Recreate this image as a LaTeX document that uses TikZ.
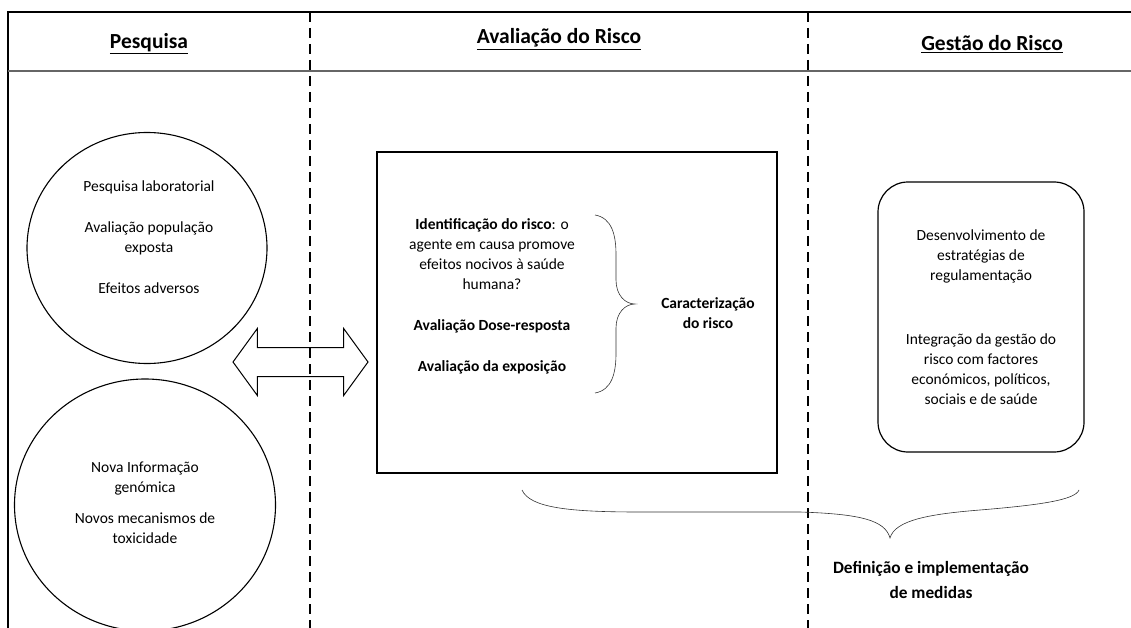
\documentclass[tikz,border=0pt]{standalone}
\usepackage{fontspec}
\setmainfont{Carlito}
\usetikzlibrary{shapes.geometric,shapes.arrows}

\tikzset{
  txt/.style={align=center, font=\fontsize{15.5}{20}\selectfont, inner sep=0pt},
  boldtxt/.style={txt, font=\fontsize{15.5}{20}\selectfont\bfseries},
  header/.style={font=\fontsize{21.5}{24}\selectfont\bfseries, inner sep=0pt},
  divider/.style={line width=2pt, dash pattern=on 10pt off 6pt},
  bubble/.style={draw, ellipse, line width=1.1pt, inner sep=0pt},
  curly/.style={line width=0.6pt, black!80},
}

\begin{document}
\begin{tikzpicture}[x=1pt, y=-1pt]
\useasboundingbox (0,0) rectangle (1131,628);
% frame and columns
\draw [line width=1.5pt] (1131,12) -- (8,12) -- (8,628);
\draw [black!60, line width=1.2pt] (8,71) -- (1131,71);
\draw [divider] (310,12) -- (310,628);
\draw [divider] (808,12) -- (808,628);
\node [header] (hpesq) at (149,44) {\underline{Pesquisa}};
\node [header] (haval) at (559,39) {\underline{Avaliação do Risco}};
\node [header] (hgest) at (992,44) {\underline{Gestão do Risco}};

% research
\node [bubble, minimum width=240pt, minimum height=231pt] (lab) at (147,248) {};
\node [txt] (labtext) at (149,237) {Pesquisa laboratorial\\[21pt] Avaliação população\\ exposta\\[21pt] Efeitos adversos};
\node [bubble, minimum width=261pt, minimum height=252pt] (geno) at (145,505) {};
\node [txt] (genotext) at (145,503) {Nova Informação\\ genómica\\[11pt] Novos mecanismos de\\ toxicidade};
\node [double arrow, draw, line width=1pt, inner sep=14pt, minimum height=135pt,
       double arrow head extend=19pt, double arrow tip angle=108] (exchange) at (300.5,362) {};

% risk assessment
\node [draw, line width=1.2pt, minimum width=400pt, minimum height=321pt, inner sep=0pt] (assess) at (577,312.5) {};
\node [txt] (steps) at (492,296) {\textbf{Identificação do risco}: o\\ agente em causa promove\\ efeitos nocivos à saúde\\ humana?\\[21pt] \textbf{Avaliação Dose-resposta}\\[21pt] \textbf{Avaliação da exposição}};
\draw [curly] (595,215) .. controls (612,218) and (616,235) .. (616,255) -- (616,280)
  .. controls (616,295) and (625,304) .. (635,304)
  .. controls (625,304) and (616,313) .. (616,328) -- (616,353)
  .. controls (616,373) and (612,390) .. (595,393);
\node [boldtxt] (charact) at (708,313) {Caracterização\\ do risco};

% risk management
\node [txt, draw, line width=1.2pt, rounded corners=30pt, minimum width=206pt, minimum height=270pt] (manage) at (981,317)
  {Desenvolvimento de\\ estratégias de\\ regulamentação\\[44pt] Integração da gestão do\\ risco com factores\\ económicos, políticos,\\ sociais e de saúde};
\draw [curly] (522,490) .. controls (530,508) and (570,512) .. (640,512) -- (800,512)
  .. controls (860,514) and (885,520) .. (890,538)
  .. controls (895,520) and (930,514) .. (980,510)
  .. controls (1040,505) and (1075,500) .. (1079,490);
\node [boldtxt, font=\fontsize{17.3}{25}\selectfont\bfseries] (measures) at (931,580) {Definição e implementação\\ de medidas};
\end{tikzpicture}
\end{document}
